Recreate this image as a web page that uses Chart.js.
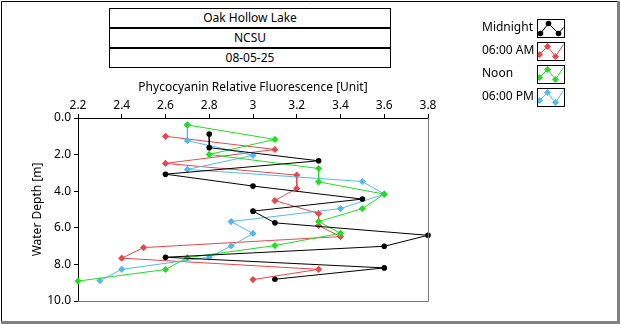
<!DOCTYPE html>
<html>
<head>
<meta charset="utf-8">
<script src="https://cdn.jsdelivr.net/npm/chart.js@4/dist/chart.umd.min.js"></script>
<style>
  html, body { margin: 0; padding: 0; background: #fff; }
  #wrap { position: relative; width: 620px; height: 324px; overflow: hidden; }
  canvas { position: absolute; left: 0; top: 0; }
  .tbox { position: absolute; left: 109px; width: 282px; height: 20px; box-sizing: border-box;
          border: 1px solid #000; font: 12px "Noto Sans", sans-serif; color: #000;
          text-align: center; line-height: 18px; background: #fff; }
</style>
</head>
<body>
<div id="wrap">
  <canvas id="c" width="620" height="324"></canvas>
  <div class="tbox" style="top:8px">Oak Hollow Lake</div>
  <div class="tbox" style="top:28px">NCSU</div>
  <div class="tbox" style="top:48px">08-05-25</div>
</div>
<script>
// ---- data ----
const seriesNames = ["Midnight", "06:00 AM", "Noon", "06:00 PM"];

const depthMidnight = [0.88, 1.62, 2.34, 3.07, 3.72, 4.43, 5.09, 5.73, 6.41, 7.01, 7.61, 8.19, 8.81];
const fluorMidnight = [2.8, 2.8, 3.3, 2.6, 3.0, 3.5, 3.0, 3.1, 3.8, 3.6, 2.6, 3.6, 3.1];

const depthAM = [1.0, 1.72, 2.48, 3.12, 3.85, 4.51, 5.22, 5.88, 6.48, 7.08, 7.66, 8.27, 8.83];
const fluorAM = [2.6, 3.1, 2.6, 3.2, 3.2, 3.1, 3.3, 3.3, 3.4, 2.5, 2.4, 3.3, 3.0];

const depthNoon = [0.38, 1.17, 1.99, 2.76, 3.49, 4.16, 4.95, 5.66, 6.30, 6.97, 7.63, 8.28, 8.91];
const fluorNoon = [2.7, 3.1, 2.8, 3.3, 3.3, 3.6, 3.5, 3.3, 3.4, 3.1, 2.7, 2.6, 2.2];

const depthPM = [0.38, 1.24, 2.04, 2.81, 3.47, 4.16, 4.95, 5.66, 6.31, 6.99, 7.61, 8.27, 8.89];
const fluorPM = [2.7, 2.7, 3.0, 2.7, 3.5, 3.6, 3.4, 2.9, 3.0, 2.9, 2.8, 2.4, 2.3];

const xTicks = [2.2, 2.4, 2.6, 2.8, 3.0, 3.2, 3.4, 3.6, 3.8];
const yTicks = [0, 2, 4, 6, 8, 10];

const colors = ["#000000", "#e8474b", "#22dd22", "#55b8ec"];
const styles = ["circle", "rectRot", "rectRot", "rectRot"];

function pts(xs, ys) { return xs.map((v, i) => ({ x: v, y: ys[i] })); }
const seriesData = [pts(fluorMidnight, depthMidnight), pts(fluorAM, depthAM), pts(fluorNoon, depthNoon), pts(fluorPM, depthPM)];
const drawOrder = [0, 3, 1, 2];

const FONT = "'Noto Sans', sans-serif";

const decor = {
  id: 'decor',
  afterDraw(chart) {
    const ctx = chart.ctx, a = chart.chartArea;
    ctx.save();
    // plot right/bottom border (grey)
    ctx.strokeStyle = '#7a7a7a'; ctx.lineWidth = 1;
    ctx.beginPath();
    ctx.moveTo(Math.round(a.right) + 0.5, Math.round(a.top));
    ctx.lineTo(Math.round(a.right) + 0.5, Math.round(a.bottom) + 0.5);
    ctx.lineTo(Math.round(a.left), Math.round(a.bottom) + 0.5);
    ctx.stroke();
    // outer frame
    ctx.strokeStyle = '#000';
    ctx.beginPath();
    ctx.moveTo(1.5, 322); ctx.lineTo(1.5, 1.5); ctx.lineTo(617, 1.5);
    ctx.stroke();
    ctx.fillStyle = '#808080';
    ctx.fillRect(617, 1, 3, 323);
    ctx.fillRect(1, 321, 619, 3);
    // legend
    ctx.font = '12px ' + FONT;
    ctx.textBaseline = 'middle';
    ctx.textAlign = 'left';
    for (let i = 0; i < seriesNames.length; i++) {
      const by = 19 + i * 23;
      ctx.fillStyle = '#000';
      ctx.fillText(seriesNames[i], 482, by + 9);
      ctx.strokeStyle = '#000'; ctx.lineWidth = 1;
      ctx.strokeRect(537.5, by + 0.5, 27, 18);
      const p = i === 0
        ? [[3, 14], [11, 4], [21, 14], [26, 8]]
        : [[2, 12], [10, 4], [18, 14], [26, 2]];
      ctx.save();
      ctx.beginPath(); ctx.rect(538, by + 1, 26, 17); ctx.clip();
      ctx.strokeStyle = colors[i]; ctx.fillStyle = colors[i];
      ctx.beginPath();
      p.forEach((q, k) => { const X = 537.5 + q[0], Y = by + 0.5 + q[1]; k ? ctx.lineTo(X, Y) : ctx.moveTo(X, Y); });
      ctx.stroke();
      for (let k = 0; k < 3; k++) {
        const X = 537.5 + p[k][0], Y = by + 0.5 + p[k][1];
        ctx.beginPath();
        if (i === 0) { ctx.arc(X, Y, 2.8, 0, Math.PI * 2); }
        else { ctx.moveTo(X, Y - 3.5); ctx.lineTo(X + 3.5, Y); ctx.lineTo(X, Y + 3.5); ctx.lineTo(X - 3.5, Y); ctx.closePath(); }
        ctx.fill();
      }
      ctx.restore();
    }
    ctx.restore();
  }
};

new Chart(document.getElementById('c'), {
  type: 'scatter',
  data: {
    datasets: seriesData.map((d, i) => ({
      label: seriesNames[i],
      data: d,
      showLine: true,
      borderColor: colors[i],
      backgroundColor: colors[i],
      borderWidth: 1,
      pointStyle: styles[i],
      pointRadius: i === 0 ? 2.8 : 3.6,
      pointBorderWidth: 0,
      pointHoverRadius: 0,
      order: drawOrder[i],
      clip: 5
    }))
  },
  options: {
    responsive: false,
    animation: false,
    devicePixelRatio: 1,
    layout: { padding: { left: 28, top: 78, right: 192, bottom: 23 } },
    plugins: { legend: { display: false }, tooltip: { enabled: false } },
    scales: {
      x: {
        type: 'linear', position: 'top', min: 2.2, max: 3.8,
        afterBuildTicks: s => { s.ticks = xTicks.map(v => ({ value: v })); },
        afterFit: s => { s.height = 40; },
        ticks: { color: '#000', font: { family: FONT, size: 12 }, padding: 1, maxRotation: 0,
                 callback: v => String(Math.round(v * 10) / 10) },
        grid: { drawOnChartArea: false, drawTicks: true, tickLength: 4, color: '#000' },
        border: { color: '#000', width: 1 },
        title: { display: true, text: 'Phycocyanin Relative Fluorescence [Unit]', color: '#000',
                 font: { family: FONT, size: 12 }, padding: { top: 2, bottom: 0 } }
      },
      y: {
        type: 'linear', reverse: true, min: 0, max: 10,
        afterBuildTicks: s => { s.ticks = yTicks.map(v => ({ value: v })); },
        afterFit: s => { s.width = 50; },
        ticks: { color: '#000', font: { family: FONT, size: 12 }, padding: 3,
                 callback: v => Number(v).toFixed(1) },
        grid: { drawOnChartArea: false, drawTicks: true, tickLength: 4, color: '#000' },
        border: { color: '#000', width: 1 },
        title: { display: true, text: 'Water Depth [m]', color: '#000',
                 font: { family: FONT, size: 12 }, padding: { top: 2, bottom: 0 } }
      }
    }
  },
  plugins: [decor]
});
</script>
</body>
</html>
